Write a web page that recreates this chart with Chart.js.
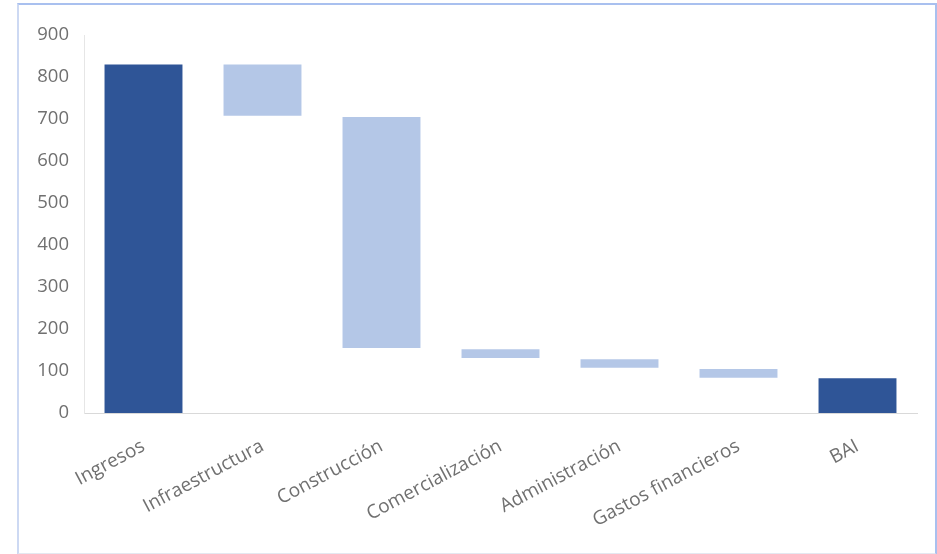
<!DOCTYPE html>
<html>
<head>
<meta charset="utf-8">
<script src="https://cdn.jsdelivr.net/npm/chart.js@4"></script>
<style>
  html, body { margin: 0; padding: 0; background: #ffffff; }
  #wrap { position: relative; width: 937px; height: 554px; }
  #frame { position: absolute; left: 17px; top: 3px; width: 916px; height: 548px;
           border: 2px solid #a9c0ef; border-left-color: #cdd9f3; border-bottom-color: #e4e8f0; pointer-events: none; }
  canvas { position: absolute; left: 0; top: 0; }
</style>
</head>
<body>
<div id="wrap">
  <canvas id="c" width="937" height="554"></canvas>
  <div id="frame"></div>
</div>
<script>
const categories = ['Ingresos', 'Infraestructura', 'Construcción', 'Comercialización', 'Administración', 'Gastos financieros', 'BAI'];
const barLows  = [0, 708, 155, 131, 108, 84, 0];
const barHighs = [830, 830, 705, 152, 128, 105, 83];
const barKinds = ['total', 'step', 'step', 'step', 'step', 'step', 'total'];
const yTickMin = 0, yTickMax = 900, yTickStep = 100;

const colorFor = { total: '#2f5597', step: '#b4c7e7' };

new Chart(document.getElementById('c'), {
  type: 'bar',
  data: {
    labels: categories,
    datasets: [{
      data: categories.map((_, i) => [barLows[i], barHighs[i]]),
      backgroundColor: barKinds.map(k => colorFor[k]),
      borderWidth: 0,
      barPercentage: 0.655,
      categoryPercentage: 1.0
    }]
  },
  options: {
    responsive: false,
    animation: false,
    layout: { padding: { left: 0, right: 20, top: 35, bottom: 0 } },
    plugins: { legend: { display: false }, tooltip: { enabled: false } },
    scales: {
      x: {
        grid: { display: false },
        border: { display: true, color: '#d9d9d9', width: 1 },
        ticks: {
          autoSkip: false, minRotation: 28, maxRotation: 28,
          color: '#707070', padding: 14,
          font: { family: 'Open Sans', size: 19 }
        },
        afterFit: s => { s.height = 141; }
      },
      y: {
        min: yTickMin, max: yTickMax,
        grid: { display: false },
        border: { display: true, color: '#e6e6e6', width: 1 },
        ticks: {
          stepSize: yTickStep, color: '#707070', padding: 7,
          font: { family: 'Open Sans', size: 18.5 }
        },
        afterFit: s => { s.width = 84; }
      }
    }
  }
});
</script>
</body>
</html>
